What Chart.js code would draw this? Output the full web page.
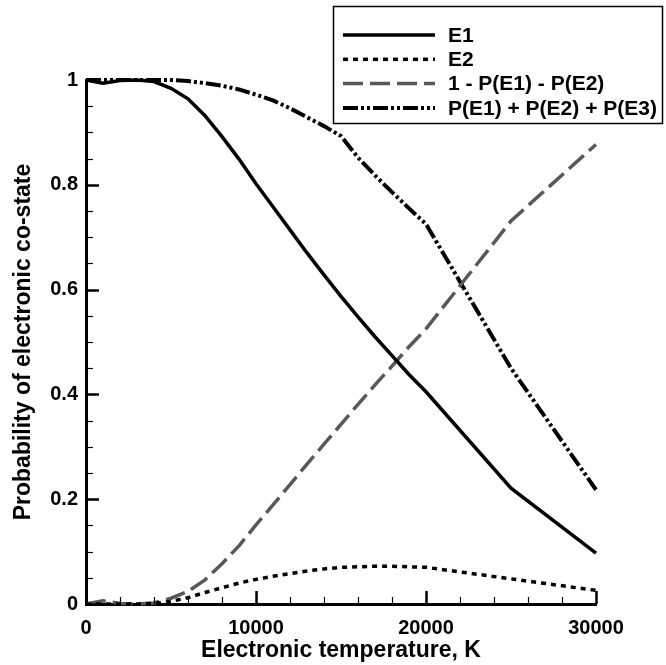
<!DOCTYPE html>
<html>
<head>
<meta charset="utf-8">
<script src="https://cdn.jsdelivr.net/npm/chart.js@4.4.1/dist/chart.umd.min.js"></script>
<style>
  html, body { margin: 0; padding: 0; background: #fff; }
</style>
</head>
<body>
<canvas id="myChart" width="666" height="665"></canvas>
<script>
// electronic temperature, K
var temps = [0, 1000, 2000, 3000, 4000, 5000, 6000, 7000, 8000, 9000, 10000,
             11000, 12000, 13000, 14000, 15000, 16000, 17000, 18000, 19000, 20000,
             25000, 30000];
var pE1 = [1.0, 0.994, 0.999, 1.0, 0.997, 0.984, 0.964, 0.932, 0.892, 0.849, 0.802,
           0.758, 0.714, 0.670, 0.628, 0.587, 0.548, 0.510, 0.474, 0.438, 0.405,
           0.221, 0.097];
var pE2 = [0, 0, 0, 0, 0.001, 0.005, 0.012, 0.022, 0.031, 0.040, 0.047,
           0.053, 0.058, 0.063, 0.067, 0.070, 0.071, 0.072, 0.072, 0.071, 0.070,
           0.048, 0.026];
var pRest = [0, 0.006, 0.001, 0, 0.002, 0.011, 0.024, 0.046, 0.077, 0.111, 0.151,
             0.189, 0.228, 0.267, 0.305, 0.343, 0.381, 0.418, 0.454, 0.491, 0.525,
             0.731, 0.877];
var pSum3 = [1.0, 1.0, 1.0, 1.0, 1.0, 1.0, 0.998, 0.994, 0.989, 0.982, 0.972,
             0.961, 0.946, 0.929, 0.912, 0.893, 0.852, 0.818, 0.786, 0.755, 0.725,
             0.450, 0.218];
var seriesNames = ['E1', 'E2', '1 - P(E1) - P(E2)', 'P(E1) + P(E2) + P(E3)'];
var xTicks = [0, 10000, 20000, 30000];
var yTicks = [0, 0.2, 0.4, 0.6, 0.8, 1];

var FONT = "'Liberation Sans', Arial, Helvetica, sans-serif";

function pts(ys) {
    return temps.map(function (t, i) { return { x: t, y: ys[i] }; });
}

// tick marks pointing into the plot, like the original
var innerTicks = {
    id: 'innerTicks',
    afterDraw: function (chart) {
        var ctx = chart.ctx;
        var xs = chart.scales.x, ys = chart.scales.y;
        var a = chart.chartArea;
        ctx.save();
        ctx.strokeStyle = '#000';
        for (var v = 0; v <= 30000; v += 2000) {
            var major = v % 10000 === 0;
            var px = Math.round(xs.getPixelForValue(v)) + 0.5;
            ctx.lineWidth = major ? 2.5 : 1.2;
            ctx.beginPath();
            ctx.moveTo(px, a.bottom);
            ctx.lineTo(px, a.bottom - (major ? 13 : 7));
            ctx.stroke();
        }
        for (var k = 0; k <= 20; k++) {
            var major2 = k % 4 === 0;
            var py = Math.round(ys.getPixelForValue(k * 0.05)) + 0.5;
            ctx.lineWidth = major2 ? 2.5 : 1.2;
            ctx.beginPath();
            ctx.moveTo(a.left, py);
            ctx.lineTo(a.left + (major2 ? 13 : 7), py);
            ctx.stroke();
        }
        ctx.restore();
    }
};

// boxed legend in the upper right corner
var boxLegend = {
    id: 'boxLegend',
    afterDraw: function (chart) {
        var ctx = chart.ctx;
        ctx.save();
        ctx.fillStyle = '#fff';
        ctx.fillRect(333, 6, 330, 118);
        ctx.strokeStyle = '#000';
        ctx.lineWidth = 1.5;
        ctx.strokeRect(333.5, 6.5, 329, 117);
        chart.data.datasets.forEach(function (ds, i) {
            var y = 35 + i * 24.3;
            ctx.strokeStyle = ds.borderColor;
            ctx.lineWidth = ds.borderWidth;
            ctx.setLineDash(ds.borderDash || []);
            ctx.beginPath();
            ctx.moveTo(343, y);
            ctx.lineTo(435, y);
            ctx.stroke();
            ctx.setLineDash([]);
            ctx.fillStyle = '#000';
            ctx.font = 'bold 21px ' + FONT;
            ctx.textBaseline = 'middle';
            ctx.fillText(ds.label, 448, y + 1);
        });
        ctx.restore();
    }
};

var ctx = document.getElementById('myChart');
var myChart = new Chart(ctx, {
    type: 'line',
    data: {
        datasets: [{
            label: seriesNames[0],
            data: pts(pE1),
            borderColor: '#000',
            borderWidth: 3.5,
            borderDash: []
        }, {
            label: seriesNames[1],
            data: pts(pE2),
            borderColor: '#000',
            borderWidth: 3.5,
            borderDash: [5, 5]
        }, {
            label: seriesNames[2],
            data: pts(pRest),
            borderColor: '#585858',
            borderWidth: 3.5,
            borderDash: [20, 7]
        }, {
            label: seriesNames[3],
            data: pts(pSum3),
            borderColor: '#000',
            borderWidth: 4,
            borderDash: [15, 3, 3, 3, 3, 3]
        }]
    },
    options: {
        responsive: false,
        animation: false,
        clip: false,
        elements: {
            point: { radius: 0 },
            line: { tension: 0, fill: false }
        },
        layout: {
            padding: { top: 80, right: 70, bottom: 0, left: 0 }
        },
        plugins: {
            legend: { display: false },
            tooltip: { enabled: false }
        },
        scales: {
            x: {
                type: 'linear',
                min: 0,
                max: 30000,
                afterFit: function (s) { s.height = 61; },
                afterBuildTicks: function (s) {
                    s.ticks = xTicks.map(function (v) { return { value: v }; });
                },
                grid: { display: false, drawTicks: false },
                border: { display: true, color: '#000', width: 3 },
                ticks: {
                    color: '#000',
                    padding: 12,
                    maxRotation: 0,
                    autoSkip: false,
                    font: { family: FONT, size: 20, weight: 'bold' },
                    callback: function (v) { return String(v); }
                },
                title: {
                    display: true,
                    text: 'Electronic temperature, K',
                    color: '#000',
                    padding: { top: 0, bottom: 1 },
                    font: { family: FONT, size: 23, weight: 'bold' }
                }
            },
            y: {
                min: 0,
                max: 1,
                afterFit: function (s) { s.width = 86; },
                afterBuildTicks: function (s) {
                    s.ticks = yTicks.map(function (v) { return { value: v }; });
                },
                grid: { display: false, drawTicks: false },
                border: { display: true, color: '#000', width: 3 },
                ticks: {
                    color: '#000',
                    padding: 8,
                    font: { family: FONT, size: 20, weight: 'bold' },
                    callback: function (v) { return String(v); }
                },
                title: {
                    display: true,
                    text: 'Probability of electronic co-state',
                    color: '#000',
                    padding: { top: 10, bottom: 0 },
                    font: { family: FONT, size: 23, weight: 'bold' }
                }
            }
        }
    },
    plugins: [innerTicks, boxLegend]
});
</script>
</body>
</html>
